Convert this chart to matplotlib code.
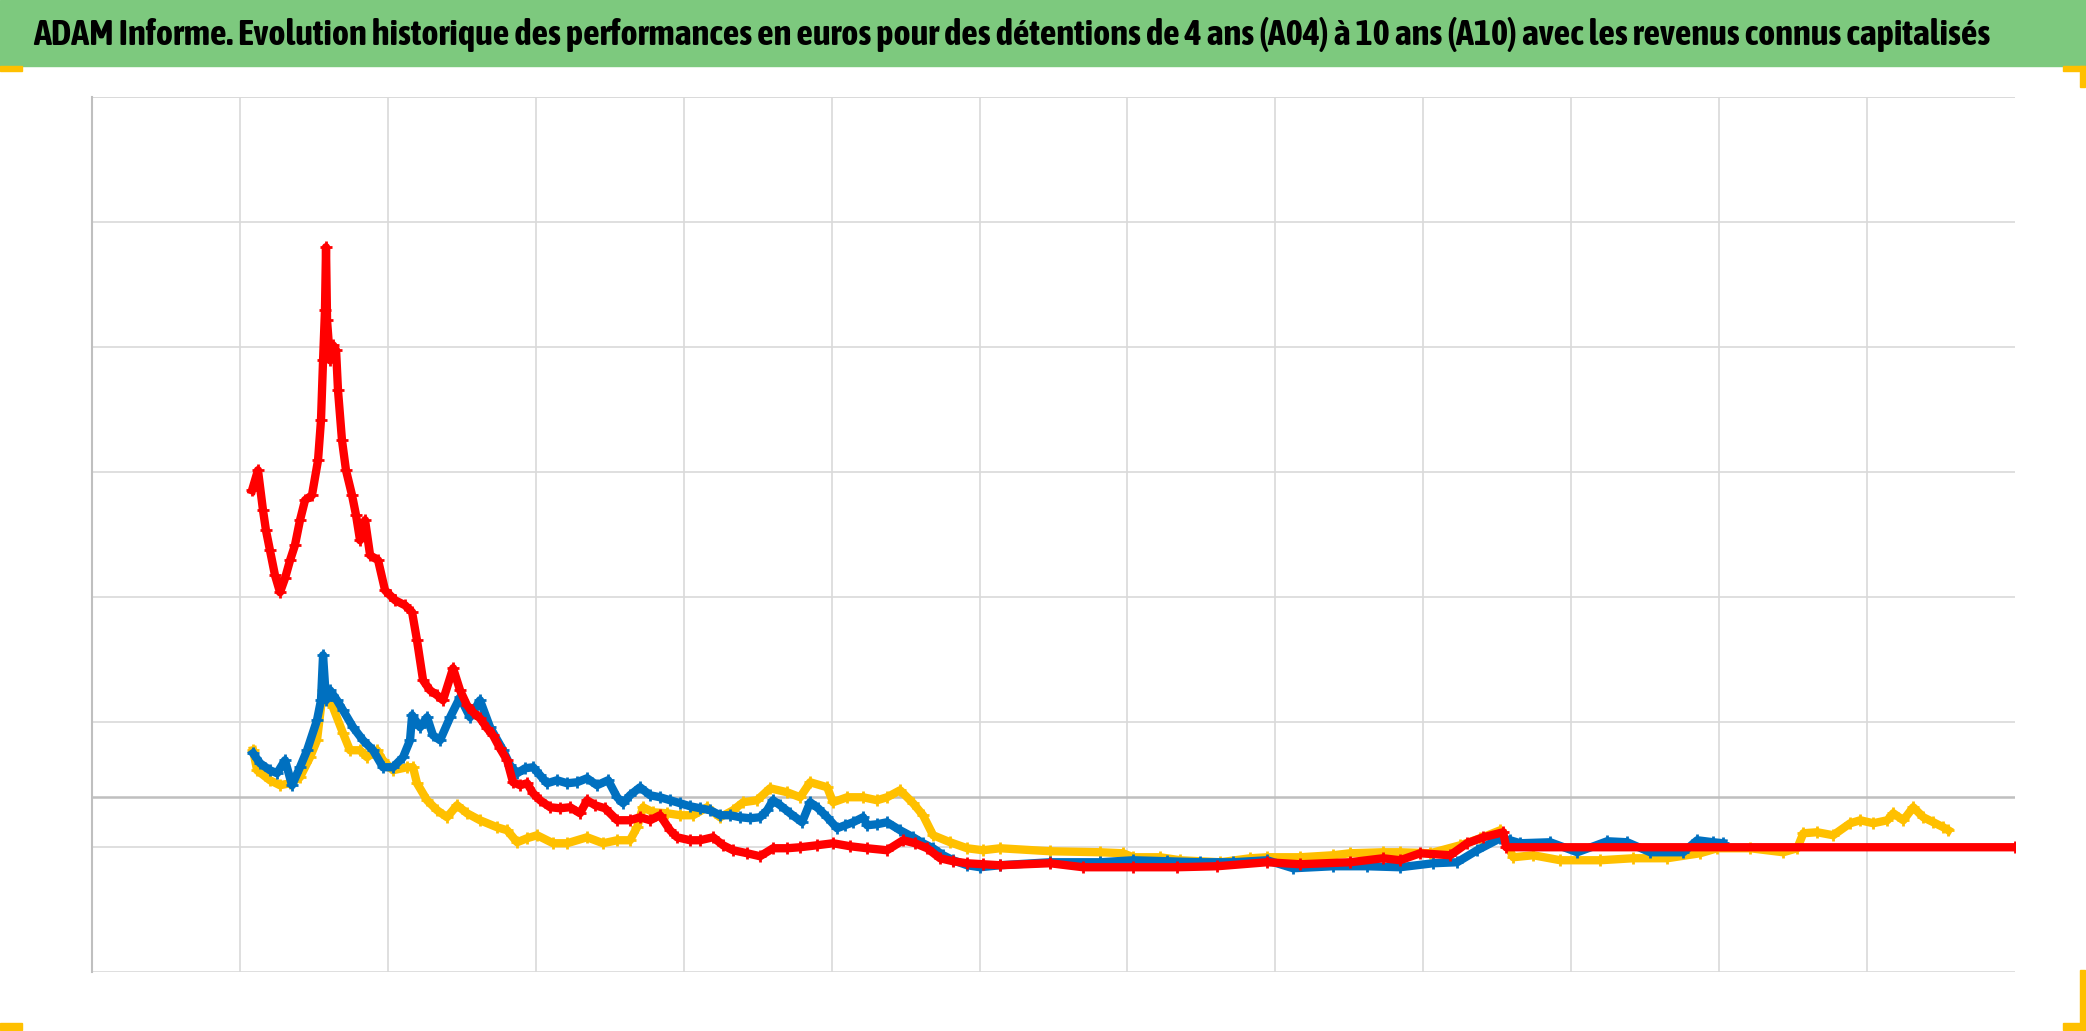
#!/usr/bin/env python3
"""ADAM Informe: performance history, 4 to 10 year holdings (scatter)."""

import matplotlib
matplotlib.use('Agg')
import matplotlib.pyplot as plt
from matplotlib import font_manager
from matplotlib.patches import Rectangle

TITLE = ('ADAM Informe. Evolution historique des performances en euros '
         'pour des détentions de 4 ans (A04) à 10 ans (A10) avec les '
         'revenus connus capitalisés')

# x in years from the start of the axis, y in % performance.
YELLOW_X = [1.089, 1.116, 1.203, 1.271, 1.339, 1.406, 1.474, 1.521, 1.562,
            1.629, 1.697, 1.744, 1.812, 1.859, 1.927, 1.967, 2.035, 2.130,
            2.170, 2.197, 2.265, 2.333, 2.400, 2.468, 2.535, 2.623, 2.738,
            2.806, 2.874, 2.941, 3.009, 3.117, 3.212, 3.347, 3.455, 3.550,
            3.637, 3.685, 3.725, 3.793, 3.888, 3.976, 4.064, 4.158, 4.246,
            4.334, 4.402, 4.496, 4.584, 4.699, 4.787, 4.855, 4.970, 5.010,
            5.105, 5.213, 5.307, 5.375, 5.463, 5.551, 5.618, 5.686, 5.801,
            5.916, 6.024, 6.139, 6.477, 6.815, 6.971, 7.038, 7.221, 7.356,
            7.627, 7.830, 7.944, 8.167, 8.390, 8.505, 8.728, 8.843, 9.047,
            9.250, 9.385, 9.520, 9.608, 9.743, 9.926, 10.196, 10.419,
            10.649, 10.872, 10.987, 11.210, 11.433, 11.528, 11.569, 11.663,
            11.771, 11.886, 11.954, 12.042, 12.137, 12.177, 12.245, 12.312,
            12.380, 12.448, 12.515, 12.549]
YELLOW_Y = [18.7, 10.7, 6.7, 4.7, 5.5, 7.9, 15.9, 22.7, 42.7, 35.9, 25.5,
            18.7, 18.7, 15.9, 18.7, 14.7, 10.7, 11.9, 11.9, 5.5, -1.3, -5.3,
            -8.1, -3.3, -6.5, -9.3, -12.1, -13.3, -18.1, -16.5, -15.3, -18.5,
            -18.5, -16.1, -18.5, -17.3, -17.3, -12.1, -4.1, -6.1, -6.5, -7.3,
            -7.3, -4.1, -8.1, -5.3, -2.1, -1.3, 3.5, 1.9, -0.1, 5.9, 3.9,
            -2.1, -0.1, -0.1, -1.3, -0.1, 2.7, -2.5, -7.3, -15.3, -18.1,
            -20.5, -21.3, -20.5, -21.7, -22.1, -22.5, -24.1, -24.1, -25.3,
            -26.1, -24.5, -24.1, -24.1, -23.3, -22.5, -22.1, -22.1, -22.5,
            -19.3, -16.5, -13.3, -24.1, -23.3, -25.3, -25.3, -24.5, -24.5,
            -22.5, -20.5, -20.5, -22.1, -20.5, -14.5, -14.1, -15.3, -10.5,
            -9.3, -10.5, -9.3, -6.5, -9.3, -4.1, -8.1, -10.1, -12.1, -13.3]

BLUE_X = [1.089, 1.136, 1.203, 1.251, 1.305, 1.352, 1.406, 1.454, 1.521,
          1.548, 1.562, 1.582, 1.609, 1.656, 1.697, 1.765, 1.832, 1.900,
          1.967, 2.035, 2.103, 2.150, 2.164, 2.218, 2.265, 2.305, 2.353,
          2.421, 2.488, 2.556, 2.623, 2.691, 2.779, 2.826, 2.874, 2.928,
          2.982, 3.029, 3.076, 3.144, 3.212, 3.279, 3.347, 3.414, 3.489,
          3.550, 3.590, 3.637, 3.705, 3.773, 3.840, 3.908, 3.976, 4.043,
          4.111, 4.179, 4.246, 4.314, 4.381, 4.449, 4.516, 4.564, 4.604,
          4.652, 4.719, 4.800, 4.855, 4.909, 4.970, 5.037, 5.091, 5.145,
          5.213, 5.240, 5.307, 5.375, 5.463, 5.551, 5.618, 5.686, 5.754,
          5.821, 5.916, 6.004, 6.139, 6.477, 6.815, 7.038, 7.268, 7.491,
          7.714, 7.944, 8.120, 8.390, 8.620, 8.843, 9.067, 9.229, 9.364,
          9.520, 9.587, 9.655, 9.858, 10.041, 10.243, 10.379, 10.534,
          10.757, 10.852, 10.960, 11.028]
BLUE_Y = [17.5, 13.5, 10.7, 9.5, 14.7, 4.7, 11.9, 18.7, 30.7, 38.7, 56.7,
          38.7, 42.7, 38.7, 34.7, 27.9, 22.7, 18.7, 11.9, 11.9, 15.9, 22.7,
          32.7, 27.9, 31.9, 24.7, 22.7, 31.9, 39.9, 31.9, 38.7, 27.9, 18.7,
          12.7, 9.5, 11.5, 11.9, 8.7, 5.5, 6.7, 5.5, 5.9, 7.5, 4.7, 6.7,
          -0.1, -2.5, 0.7, 3.9, 0.7, -0.1, -1.3, -2.5, -3.7, -4.5, -5.3,
          -7.3, -7.3, -8.1, -8.5, -8.1, -5.3, -1.3, -3.3, -6.5, -10.1, -2.1,
          -4.5, -8.1, -12.5, -11.3, -10.1, -8.1, -11.3, -10.9, -10.1, -13.3,
          -16.1, -18.5, -20.5, -23.3, -25.3, -27.3, -28.1, -27.3, -26.1,
          -26.1, -25.3, -25.7, -26.1, -26.1, -25.3, -28.5, -27.7, -27.7,
          -28.1, -26.5, -26.1, -21.3, -16.5, -17.3, -18.5, -18.1, -22.1,
          -17.7, -18.1, -22.1, -22.1, -17.3, -18.1, -18.5]

RED_X = [1.082, 1.122, 1.156, 1.176, 1.203, 1.237, 1.271, 1.305, 1.339,
         1.372, 1.406, 1.440, 1.487, 1.528, 1.548, 1.562, 1.575, 1.582,
         1.589, 1.609, 1.629, 1.650, 1.663, 1.690, 1.717, 1.758, 1.785,
         1.812, 1.846, 1.880, 1.934, 1.981, 2.015, 2.049, 2.116, 2.164,
         2.197, 2.238, 2.285, 2.333, 2.373, 2.441, 2.488, 2.535, 2.576,
         2.623, 2.671, 2.711, 2.758, 2.806, 2.846, 2.894, 2.941, 2.982,
         3.029, 3.097, 3.164, 3.232, 3.299, 3.347, 3.401, 3.468, 3.550,
         3.637, 3.705, 3.773, 3.840, 3.908, 3.955, 4.043, 4.111, 4.199,
         4.266, 4.334, 4.429, 4.516, 4.604, 4.699, 4.787, 4.902, 5.010,
         5.125, 5.240, 5.375, 5.483, 5.564, 5.646, 5.733, 5.821, 5.916,
         6.024, 6.139, 6.477, 6.700, 7.038, 7.336, 7.606, 7.944, 8.167,
         8.505, 8.728, 8.843, 8.979, 9.182, 9.296, 9.405, 9.540, 9.560,
         13.0]
RED_Y = [122.7, 130.7, 114.7, 106.7, 98.7, 88.7, 81.9, 87.5, 94.7, 100.7,
         110.7, 118.7, 120.7, 134.7, 150.7, 174.7, 194.7, 219.9, 190.7,
         174.7, 180.7, 178.7, 162.7, 142.7, 130.7, 120.7, 112.7, 102.7,
         110.7, 96.7, 94.7, 82.7, 80.7, 78.7, 76.7, 73.9, 62.7, 46.7, 42.7,
         40.7, 38.7, 51.5, 42.7, 36.7, 33.9, 31.5, 27.5, 24.7, 19.5, 14.7,
         5.9, 4.7, 5.5, 1.5, -1.3, -4.1, -4.5, -4.1, -6.5, -1.3, -3.3, -4.5,
         -9.3, -9.3, -8.1, -9.3, -7.3, -13.3, -16.1, -17.3, -17.3, -16.1,
         -19.3, -21.3, -22.5, -23.7, -20.5, -20.5, -20.1, -19.3, -18.5,
         -19.7, -20.5, -21.3, -17.3, -18.5, -20.5, -24.5, -25.7, -26.5,
         -26.9, -27.3, -26.5, -28.1, -28.1, -28.1, -27.7, -26.1, -26.9,
         -26.1, -24.5, -25.3, -22.5, -23.3, -18.5, -16.1, -14.1, -20.1,
         -20.1]

SERIES = [
    (YELLOW_X, YELLOW_Y, '#FFC000'),
    (BLUE_X, BLUE_Y, '#0070C0'),
    (RED_X, RED_Y, '#FF0000'),
]

GOLD = '#FFC000'


def pick_title_font():
  """Prefer a narrow bold face, like the Calibri of the original."""
  fonts = font_manager.fontManager.ttflist
  for f in fonts:
    if ('Narrow' in f.name or 'Condensed' in f.name) and \
        f.weight in ('bold', 700, 600, 'semibold'):
      return f.name
  for f in fonts:
    if 'Narrow' in f.name or 'Condensed' in f.name:
      return f.name
  return 'Open Sans'


def main():
  fig = plt.figure(figsize=(20.86, 10.31), dpi=100)
  W, H = 2086, 1031

  # Green title band.
  fig.patches.append(Rectangle((0, 1 - 66 / H), 1, 66 / H,
                               transform=fig.transFigure,
                               color='#7DC97E', zorder=0))
  title = fig.text(33 / W, 1 - 34 / H, TITLE, ha='left', va='center',
                   fontsize=30, fontweight='bold',
                   family=pick_title_font())
  # Fit the title width to the band.
  fig.canvas.draw()
  width = title.get_window_extent().width
  title.set_fontsize(30 * 1950 / width)

  # Gold corner marks.
  for x, y, w, h in [(0, 66, 22, 5), (2063, 66, 22, 5), (2080, 66, 5, 21),
                     (0, 1023, 22, 7), (2063, 1023, 22, 7),
                     (2080, 970, 5, 60)]:
    fig.patches.append(Rectangle((x / W, 1 - (y + h) / H), w / W, h / H,
                                 transform=fig.transFigure, color=GOLD,
                                 zorder=1))

  ax = fig.add_axes([92 / W, 1 - 972 / H, (2015 - 92) / W, (972 - 97) / H])
  for xs, ys, color in SERIES:
    ax.plot(xs, ys, '-', color=color, linewidth=6, zorder=3)
    ax.plot(xs, ys, '+', color=color, markersize=9, markeredgewidth=2,
            zorder=3)

  ax.set_xlim(0, 13)
  ax.set_ylim(-70, 280)
  ax.set_xticks(range(0, 13))
  ax.set_yticks(range(-70, 281, 50))
  ax.tick_params(length=0, labelbottom=False, labelleft=False)
  ax.grid(True, color='#D9D9D9', linewidth=1.2, zorder=0)
  ax.set_axisbelow(True)
  for side in ['top', 'right', 'bottom']:
    ax.spines[side].set_visible(False)
  ax.spines['left'].set_color('#BFBFBF')
  ax.spines['left'].set_linewidth(1.5)
  ax.axhline(0, color='#BFBFBF', linewidth=1.8, zorder=1)
  ax.axhline(280, color='#D9D9D9', linewidth=1.2, zorder=1)

  fig.savefig('out.png', dpi=100)
  plt.close(fig)


if __name__ == '__main__':
  main()
